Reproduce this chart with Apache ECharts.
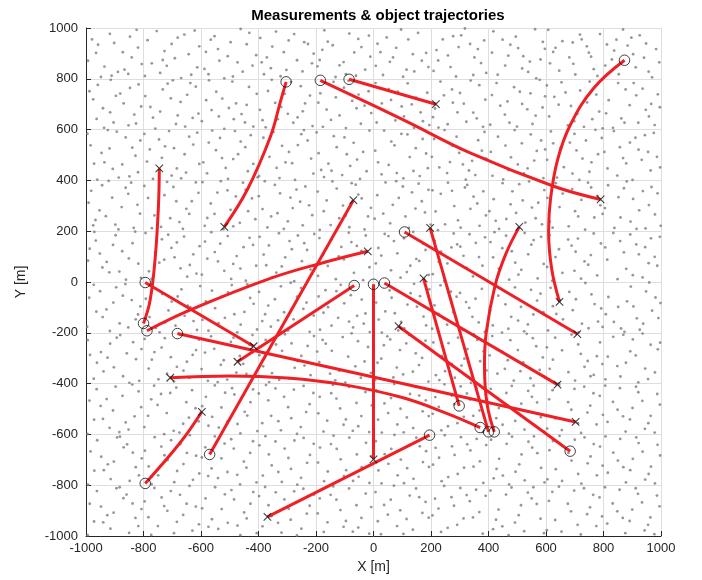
<!DOCTYPE html>
<html><head><meta charset="utf-8">
<script src="https://cdn.jsdelivr.net/npm/echarts@6/dist/echarts.min.js"></script>
<style>html,body{margin:0;padding:0;background:#fff}#c{width:702px;height:580px}</style>
</head><body><div id="c"></div>
<script>
// ---- data ----
const chartTitle = 'Measurements & object trajectories';
const xAxisName = 'X [m]';
const yAxisName = 'Y [m]';
const xTicks = [-1000,-800,-600,-400,-200,0,200,400,600,800,1000];
const yTicks = [-1000,-800,-600,-400,-200,0,200,400,600,800,1000];

// object trajectories: first point = start (circle), last point = end (cross)
const track01 = [[-304,788],[-324,709],[-359,571],[-440,361],[-519,217]];
const track02 = [[-185,794],[104,638],[336,508],[629,376],[790,325]];
const track03 = [[-85,798],[217,700]];
const track04 = [[873,873],[765,762],[684,617],[640,480],[616,330],[609,200],[620,50],[647,-78]];
const track05 = [[-800,-163],[-777,-72],[-759,99],[-748,300],[-745,447]];
const track06 = [[-794,-2],[-417,-253]];
const track07 = [[-788,-192],[-637,-110],[-359,14],[-185,73],[-20,121]];
const track08 = [[-67,-14],[-473,-314]];
const track09 = [[-682,-203],[703,-551]];
const track10 = [[371,-573],[250,-515],[100,-455],[-100,-405],[-300,-378],[-500,-370],[-707,-377]];
const track11 = [[-570,-679],[-70,322]];
const track12 = [[-794,-793],[-672,-632],[-597,-511]];
const track13 = [[195,-603],[-369,-925]];
const track14 = [[0,-9],[0,-698]];
const track15 = [[38,-4],[640,-404]];
const track16 = [[108,197],[709,-205]];
const track17 = [[400,-590],[197,213]];
const track18 = [[298,-488],[174,14]];
const track19 = [[420,-590],[395,-480],[386,-330],[392,-200],[423,-13],[460,110],[507,217]];
const track20 = [[684,-666],[87,-174]];
const tracks = [track01,track02,track03,track04,track05,track06,track07,track08,track09,track10,
                track11,track12,track13,track14,track15,track16,track17,track18,track19,track20];

const clutter = [
-993,871,-958,934,-911,812,-847,966,-872,905,-936,848,-824,993,-889,827,-965,902,-806,858,-917,977,-853,819,-979,955,-841,884,-902,941,-866,836,-948,807,-819,923,
-786,952,-742,823,-691,881,-658,974,-613,845,-727,909,-771,861,-634,816,-702,937,-669,803,-754,988,-606,928,-719,851,-643,897,-795,811,-681,962,-733,874,-622,990,
-588,839,-541,917,-473,865,-432,981,-519,802,-566,954,-408,893,-497,944,-455,828,-583,906,-421,852,-536,871,-462,996,-507,889,-574,818,-441,936,-489,809,-553,968,
-394,961,-357,842,-312,905,-266,873,-228,937,-381,818,-339,986,-247,829,-295,951,-371,884,-214,861,-323,810,-276,976,-352,927,-208,899,-389,865,-241,944,-303,835,
-187,874,-142,932,-96,818,-53,957,-11,887,-171,991,-118,853,-67,904,-29,836,-159,946,-84,978,-132,807,-42,925,-195,849,-104,866,-16,970,-61,812,-178,914,
14,938,57,867,96,994,142,829,183,902,33,815,121,955,168,871,79,922,8,851,155,981,103,808,46,963,137,897,191,846,68,884,24,905,115,836,
219,913,268,846,305,971,351,884,392,823,241,955,287,809,336,937,374,862,225,872,318,998,259,892,363,917,209,831,296,925,385,951,347,815,277,968,
417,987,458,852,503,921,544,868,589,945,432,816,476,934,521,889,566,802,412,903,495,966,538,827,581,876,449,954,517,841,562,995,469,891,596,918,
614,861,657,948,702,817,749,903,788,976,633,922,681,884,724,955,766,838,608,993,695,859,742,928,779,811,646,832,718,974,757,887,625,906,693,943,
812,935,853,818,897,962,941,883,983,917,829,876,868,994,912,845,957,828,806,852,884,931,926,971,969,806,845,954,903,897,948,939,994,865,837,911,
-988,751,-941,684,-896,733,-852,617,-817,778,-963,642,-914,796,-869,703,-832,659,-975,719,-904,628,-847,764,-808,691,-937,607,-881,742,-959,776,-826,624,-916,668,
-776,689,-733,758,-687,622,-648,737,-609,663,-759,604,-716,781,-671,709,-629,646,-794,732,-742,671,-698,794,-655,612,-618,769,-767,647,-705,723,-681,656,-637,783,
-582,716,-538,652,-491,789,-447,628,-406,741,-563,677,-519,603,-478,703,-433,768,-597,633,-547,749,-503,685,-459,661,-418,612,-572,794,-526,722,-486,641,-441,697,
-386,637,-342,705,-298,662,-253,771,-212,614,-367,752,-321,689,-279,627,-238,703,-395,678,-354,796,-309,741,-264,648,-221,734,-375,609,-333,641,-287,787,-246,672,
-192,706,-148,638,-103,765,-59,684,-17,751,-176,611,-131,727,-87,792,-44,623,-163,679,-118,656,-74,713,-31,694,-185,743,-139,788,-96,606,-52,738,-8,665,
11,628,53,759,98,691,141,607,187,745,29,703,76,636,119,782,164,668,7,783,61,717,106,652,148,726,194,618,38,674,85,749,133,699,172,633,
214,683,258,621,301,744,347,667,389,718,233,789,276,706,323,631,368,775,207,649,292,668,338,793,381,611,245,735,314,702,359,644,226,608,273,758,
412,736,457,659,499,612,546,743,588,687,428,783,473,627,517,701,564,655,406,619,489,767,535,680,578,796,441,694,509,749,553,622,597,731,466,711,
611,652,654,786,698,633,743,707,785,671,629,729,676,617,719,754,761,641,603,774,687,693,732,611,775,738,644,698,709,662,752,789,797,605,668,746,
818,716,862,644,905,783,947,678,989,739,833,607,877,758,921,627,966,701,809,664,891,696,936,761,978,618,851,783,914,735,958,652,996,688,873,627,
-984,538,-936,471,-893,592,-849,416,-811,557,-961,403,-918,526,-874,463,-828,497,-995,584,-907,445,-862,569,-819,432,-946,508,-886,411,-972,466,-839,529,-924,598,
-788,474,-746,561,-702,419,-657,503,-613,588,-767,406,-725,534,-684,447,-641,572,-797,583,-736,489,-694,527,-652,431,-606,465,-778,522,-711,594,-669,408,-627,541,
-579,428,-534,567,-488,484,-446,531,-403,412,-561,596,-514,449,-471,503,-427,578,-592,471,-548,519,-506,406,-462,553,-418,465,-573,549,-527,488,-482,594,-437,436,
-383,568,-337,449,-294,512,-251,582,-209,427,-362,493,-318,536,-273,402,-229,557,-398,417,-348,591,-306,471,-263,539,-217,486,-373,531,-327,409,-283,468,-242,598,
-191,507,-146,438,-101,569,-57,482,-14,596,-172,413,-128,531,-81,457,-36,512,-198,589,-157,466,-109,421,-69,548,-24,436,-182,441,-138,574,-93,503,-47,406,
16,471,62,553,104,408,147,527,189,448,37,596,81,429,126,492,171,563,6,517,53,461,97,583,139,437,183,506,28,424,73,538,118,581,161,417,
211,563,256,429,298,508,343,477,386,591,229,451,274,537,321,403,364,558,203,493,289,572,332,439,377,517,247,598,311,463,354,421,392,486,266,472,
414,418,459,537,502,463,547,581,591,409,433,572,478,491,523,428,568,516,408,512,491,598,536,447,583,557,451,404,516,546,559,478,597,522,469,441,
617,593,662,452,706,518,751,434,794,567,638,411,683,549,727,486,772,599,604,481,692,427,739,557,781,503,651,529,716,402,758,471,625,546,699,583,
814,447,857,531,901,402,944,578,986,493,836,594,879,467,922,521,964,439,803,512,892,549,933,481,975,587,848,419,911,568,955,512,997,451,868,488,
-991,312,-944,381,-898,226,-853,347,-812,269,-967,244,-921,398,-876,295,-834,213,-982,359,-909,332,-862,371,-821,304,-953,282,-887,207,-975,223,-843,391,-931,259,
-784,331,-739,217,-696,374,-651,288,-609,351,-762,262,-718,394,-675,236,-632,318,-797,378,-748,297,-707,251,-663,209,-618,392,-771,212,-727,342,-686,318,-641,268,
-587,221,-543,352,-497,284,-454,391,-411,247,-566,309,-522,208,-479,337,-436,279,-595,393,-553,268,-508,361,-465,233,-423,329,-578,252,-531,397,-488,219,-445,363,
-386,287,-343,382,-298,239,-255,316,-213,263,-369,215,-325,349,-281,291,-237,376,-399,338,-356,258,-312,209,-268,364,-224,302,-378,397,-334,271,-289,332,-246,223,
-194,356,-149,224,-106,301,-62,383,-19,258,-173,279,-128,368,-84,216,-41,329,-187,205,-143,396,-97,261,-53,344,-9,292,-163,321,-119,251,-76,389,-31,207,
13,342,58,231,102,376,146,289,191,363,34,269,79,397,123,213,168,318,4,249,67,304,111,258,157,387,199,226,42,392,88,331,134,353,179,274,
216,278,259,391,303,214,348,336,391,262,234,347,281,299,326,382,369,221,205,361,294,243,337,288,382,357,249,227,318,372,361,309,224,204,273,359,
418,326,462,248,507,385,551,293,594,362,437,209,483,357,528,234,573,312,403,279,496,272,541,396,586,227,449,389,519,321,564,251,425,241,477,306,
613,237,658,348,701,279,746,391,789,302,634,389,679,219,723,323,768,254,605,331,691,366,736,206,779,339,647,295,712,258,757,372,623,214,797,268,
816,381,859,254,903,327,946,211,988,349,838,213,881,396,924,282,967,374,805,291,894,238,937,358,979,266,852,334,915,209,958,303,999,221,871,369,
-987,131,-943,57,-897,184,-851,93,-809,16,-966,163,-919,38,-874,121,-829,198,-993,84,-906,146,-861,9,-818,72,-952,112,-884,41,-971,197,-838,153,-928,79,
-781,42,-736,168,-692,97,-648,21,-605,141,-759,117,-714,186,-671,54,-627,109,-793,193,-745,76,-703,134,-659,179,-616,33,-772,12,-728,88,-684,156,-639,67,
-586,159,-541,81,-495,12,-452,137,-408,64,-564,196,-519,44,-476,102,-431,174,-597,29,-552,118,-507,181,-463,53,-419,146,-578,92,-533,151,-488,71,-444,5,
-382,108,-338,37,-292,161,-249,82,-206,189,-364,144,-319,61,-276,3,-231,126,-396,178,-351,19,-307,97,-263,183,-219,49,-373,66,-329,192,-284,129,-241,153,
-193,24,-147,167,-103,89,-58,142,-14,58,-175,109,-131,11,-86,194,-42,122,-188,173,-159,63,-112,138,-68,36,-27,183,-166,79,-121,101,-77,157,-36,7,
17,134,61,46,106,172,149,91,192,28,39,189,83,113,128,64,173,151,8,73,94,17,138,197,181,126,27,104,71,161,116,39,159,83,52,181,
213,162,257,73,302,139,346,22,388,176,235,119,279,191,324,56,367,98,206,31,291,148,334,188,379,64,246,4,313,103,356,154,227,79,271,136,
416,97,461,182,504,29,549,147,592,71,436,53,481,121,526,193,571,14,407,157,493,76,538,109,583,178,448,133,514,48,557,165,421,196,472,9,
612,184,657,36,703,119,747,68,791,152,633,98,677,167,722,13,766,191,604,59,689,143,734,81,778,26,645,129,711,171,756,106,622,5,699,44,
813,88,858,161,902,27,945,137,987,64,834,193,879,52,923,109,965,172,806,136,893,187,936,18,978,99,849,11,914,148,957,74,996,178,871,117,
-989,-62,-942,-138,-895,-21,-853,-179,-811,-96,-964,-117,-917,-193,-872,-54,-827,-147,-996,-176,-905,-81,-863,-8,-819,-128,-951,-36,-883,-163,-973,-11,-841,-71,-929,-108,
-779,-138,-735,-47,-689,-172,-646,-93,-603,-16,-757,-181,-713,-112,-668,-29,-626,-154,-792,-66,-744,-198,-702,-77,-657,-133,-614,-189,-768,-4,-724,-159,-681,-57,-637,-99,
-583,-76,-539,-162,-493,-12,-449,-118,-405,-187,-562,-34,-517,-141,-474,-198,-429,-63,-595,-149,-551,-103,-506,-41,-462,-168,-417,-86,-574,-192,-528,-58,-484,-127,-439,-9,
-387,-154,-343,-68,-297,-191,-252,-24,-208,-132,-366,-93,-322,-17,-278,-147,-233,-81,-398,-39,-357,-176,-311,-119,-266,-58,-222,-196,-377,-127,-332,-151,-288,-3,-244,-106,
-191,-57,-146,-172,-102,-84,-57,-133,-13,-197,-174,-121,-129,-36,-85,-156,-41,-69,-186,-188,-158,-99,-114,-11,-71,-179,-28,-124,-167,-32,-123,-141,-79,-52,-34,-164,
18,-148,63,-62,107,-183,151,-97,194,-29,41,-116,86,-191,129,-44,174,-136,9,-81,96,-157,141,-7,183,-171,29,-199,74,-123,118,-89,162,-56,56,-33,
212,-92,256,-168,301,-43,344,-137,387,-196,233,-13,278,-119,322,-79,366,-159,204,-184,289,-58,333,-102,377,-27,244,-143,311,-189,355,-66,226,-126,269,-38,
415,-171,459,-88,503,-152,548,-31,591,-119,434,-54,479,-137,524,-194,569,-73,406,-112,492,-21,537,-167,581,-46,447,-199,513,-98,556,-128,426,-12,469,-184,
616,-23,659,-147,704,-68,748,-182,792,-104,636,-126,681,-39,725,-164,769,-87,607,-191,693,-111,737,-4,781,-156,648,-71,713,-198,758,-49,624,-95,797,-177,
817,-59,861,-183,904,-96,948,-37,991,-142,836,-157,882,-76,926,-188,969,-113,808,-127,895,-18,938,-164,981,-61,851,-98,916,-143,959,-2,998,-83,873,-196,
-986,-287,-939,-352,-893,-219,-849,-397,-807,-264,-962,-318,-916,-243,-871,-371,-826,-304,-994,-229,-903,-336,-858,-281,-815,-389,-948,-276,-881,-209,-973,-381,-836,-237,-925,-298,
-782,-341,-737,-258,-694,-392,-649,-314,-607,-227,-762,-276,-718,-361,-673,-208,-629,-287,-796,-224,-748,-383,-705,-296,-661,-349,-617,-268,-771,-306,-726,-221,-684,-334,-641,-377,
-586,-278,-542,-394,-496,-236,-453,-322,-409,-371,-565,-214,-521,-308,-477,-357,-432,-246,-598,-343,-554,-263,-509,-384,-465,-291,-421,-209,-576,-389,-531,-326,-487,-219,-442,-362,
-384,-332,-339,-246,-294,-379,-251,-291,-207,-213,-363,-394,-318,-271,-274,-338,-229,-252,-397,-288,-353,-359,-308,-206,-264,-311,-219,-367,-375,-228,-328,-385,-285,-242,-240,-329,
-196,-274,-151,-361,-107,-217,-63,-332,-19,-256,-177,-228,-133,-387,-88,-294,-44,-377,-189,-316,-166,-243,-119,-349,-76,-202,-31,-313,-145,-271,-98,-396,-54,-233,-9,-358,
14,-318,58,-226,103,-364,147,-281,191,-392,36,-249,81,-337,124,-208,169,-299,6,-386,92,-268,137,-353,181,-231,27,-302,69,-376,114,-242,158,-327,48,-214,
217,-367,261,-241,306,-329,349,-206,393,-348,238,-291,283,-377,327,-264,371,-312,208,-238,294,-219,339,-397,383,-273,249,-351,316,-302,361,-228,229,-386,272,-323,
413,-213,457,-342,502,-268,546,-379,589,-297,431,-361,476,-229,521,-317,566,-253,404,-289,488,-388,533,-204,578,-346,446,-274,511,-351,554,-221,597,-374,467,-308,
613,-342,656,-269,701,-388,745,-311,788,-238,632,-219,678,-355,721,-283,766,-366,603,-257,689,-207,734,-334,777,-292,645,-399,712,-246,755,-371,624,-306,796,-323,
815,-294,859,-372,902,-226,945,-341,989,-265,834,-216,878,-318,921,-395,964,-247,807,-383,893,-273,936,-203,979,-356,848,-331,912,-289,955,-382,997,-239,869,-208,
-988,-467,-941,-539,-897,-412,-852,-581,-808,-493,-963,-422,-918,-574,-873,-448,-831,-529,-995,-598,-906,-506,-862,-553,-817,-431,-949,-488,-884,-591,-972,-542,-839,-404,-928,-461,
-784,-527,-739,-441,-695,-586,-651,-473,-608,-549,-763,-408,-719,-516,-675,-593,-631,-426,-797,-571,-751,-484,-707,-437,-662,-558,-619,-497,-773,-462,-728,-599,-686,-416,-642,-534,
-583,-452,-538,-573,-492,-418,-448,-511,-404,-587,-561,-531,-516,-436,-473,-559,-428,-473,-596,-489,-552,-407,-507,-548,-463,-596,-419,-423,-574,-566,-529,-494,-484,-443,-439,-526,
-387,-556,-341,-419,-297,-493,-253,-571,-209,-437,-366,-466,-322,-584,-277,-424,-234,-512,-399,-439,-356,-527,-311,-452,-266,-598,-222,-481,-374,-406,-331,-548,-286,-536,-243,-409,
-192,-517,-147,-438,-104,-562,-59,-476,-15,-591,-174,-589,-129,-459,-85,-413,-42,-528,-187,-452,-161,-546,-116,-498,-72,-586,-28,-433,-141,-405,-96,-541,-53,-568,-6,-486,
16,-542,61,-457,105,-592,148,-413,192,-528,38,-478,83,-561,127,-441,171,-509,9,-427,94,-499,138,-575,182,-466,29,-593,72,-402,116,-533,159,-447,51,-516,
215,-453,259,-568,303,-411,347,-527,391,-442,236,-584,281,-481,325,-439,369,-506,206,-519,292,-556,336,-463,381,-591,247,-403,314,-531,358,-418,227,-492,272,-447,
417,-573,462,-437,506,-518,551,-452,594,-589,436,-496,481,-409,525,-581,569,-474,408,-421,493,-547,538,-429,582,-532,449,-562,514,-479,557,-408,427,-536,471,-597,
611,-462,655,-583,699,-421,744,-514,787,-448,633,-537,677,-473,722,-594,765,-438,604,-577,688,-503,733,-412,776,-561,646,-406,711,-556,754,-487,623,-426,798,-523,
814,-551,857,-418,901,-496,944,-578,987,-441,833,-472,877,-589,921,-434,964,-527,806,-408,892,-541,935,-468,978,-593,849,-503,913,-412,956,-556,996,-483,868,-529,
-984,-667,-938,-741,-892,-612,-848,-783,-806,-694,-961,-623,-914,-776,-869,-651,-827,-729,-993,-798,-903,-707,-857,-639,-816,-761,-947,-688,-882,-609,-971,-743,-837,-672,-924,-718,
-782,-726,-738,-648,-693,-788,-649,-673,-606,-754,-761,-611,-716,-701,-672,-638,-628,-779,-795,-664,-749,-761,-704,-623,-661,-717,-617,-684,-772,-796,-727,-682,-683,-744,-639,-603,
-585,-651,-541,-772,-495,-619,-451,-707,-407,-789,-563,-734,-518,-636,-474,-759,-429,-673,-597,-691,-552,-608,-508,-748,-464,-797,-419,-627,-575,-764,-529,-694,-486,-656,-442,-731,
-385,-762,-341,-628,-296,-693,-252,-771,-208,-637,-364,-679,-319,-787,-275,-624,-231,-712,-397,-643,-354,-722,-309,-656,-265,-798,-221,-681,-376,-607,-331,-748,-287,-736,-243,-614,
-193,-711,-148,-638,-103,-764,-58,-679,-14,-791,-172,-784,-128,-657,-84,-613,-41,-729,-186,-652,-159,-746,-114,-698,-71,-783,-26,-633,-139,-605,-95,-741,-52,-767,-7,-686,
17,-742,62,-657,106,-792,149,-613,193,-728,39,-678,84,-761,128,-641,172,-709,8,-627,95,-699,139,-775,183,-666,28,-793,73,-602,117,-733,161,-647,52,-716,
216,-653,260,-768,304,-611,348,-727,392,-642,237,-784,282,-681,326,-639,370,-706,207,-719,293,-756,337,-663,382,-791,248,-603,315,-731,359,-618,228,-692,273,-647,
418,-773,463,-637,507,-718,552,-652,595,-789,437,-696,482,-609,526,-781,570,-674,409,-621,494,-747,539,-629,583,-732,450,-762,515,-679,558,-608,428,-736,472,-797,
612,-662,656,-783,700,-621,745,-714,788,-648,634,-737,678,-673,723,-794,766,-638,605,-777,689,-703,734,-612,777,-761,647,-606,712,-756,755,-687,624,-626,797,-723,
815,-751,858,-618,902,-696,945,-778,988,-641,834,-672,878,-789,922,-634,965,-727,807,-608,893,-741,936,-668,979,-793,850,-703,914,-612,957,-756,997,-683,869,-729,
-987,-873,-940,-946,-894,-812,-850,-988,-807,-894,-962,-823,-915,-971,-870,-851,-828,-929,-994,-997,-904,-908,-859,-837,-818,-961,-948,-884,-883,-808,-972,-943,-838,-872,-926,-918,
-783,-926,-737,-848,-694,-989,-650,-873,-607,-954,-762,-811,-717,-901,-673,-838,-630,-979,-796,-864,-750,-961,-705,-823,-662,-917,-618,-884,-773,-996,-728,-882,-684,-944,-640,-803,
-584,-852,-540,-972,-494,-819,-450,-907,-406,-989,-562,-934,-517,-836,-473,-959,-428,-873,-596,-891,-551,-808,-507,-948,-463,-997,-418,-827,-574,-964,-528,-894,-485,-856,-441,-931,
-386,-962,-340,-828,-295,-893,-251,-971,-207,-837,-365,-879,-320,-987,-276,-824,-232,-912,-398,-843,-355,-922,-310,-856,-266,-998,-222,-881,-377,-807,-332,-948,-288,-936,-244,-814,
-194,-911,-149,-838,-104,-964,-59,-879,-15,-991,-173,-984,-129,-857,-85,-813,-42,-929,-187,-852,-160,-946,-115,-898,-72,-983,-27,-833,-140,-805,-96,-941,-53,-967,-8,-886,
15,-942,60,-857,104,-992,148,-813,192,-928,37,-878,82,-961,126,-841,170,-909,7,-827,93,-899,137,-975,181,-866,26,-993,71,-802,115,-933,159,-847,50,-916,
214,-853,258,-968,302,-811,346,-927,390,-842,235,-984,280,-881,324,-839,368,-906,205,-919,291,-956,335,-863,380,-991,246,-803,313,-931,357,-818,226,-892,271,-847,
416,-973,461,-837,505,-918,550,-852,593,-989,435,-896,480,-809,524,-981,568,-874,407,-821,492,-947,537,-829,581,-932,448,-962,513,-879,556,-808,426,-936,470,-997,
610,-862,654,-983,698,-821,743,-914,786,-848,632,-937,676,-873,721,-994,764,-838,603,-977,687,-903,732,-812,775,-961,645,-806,710,-956,753,-887,622,-826,795,-923,
813,-951,856,-818,900,-896,943,-978,986,-841,832,-872,876,-989,920,-834,963,-927,805,-808,891,-941,934,-868,977,-993,848,-903,912,-812,955,-956,995,-883,867,-929
];

// ---- build ----
const FONT = '"Liberation Sans", Arial, Helvetica, sans-serif';
const INK = '#262626';
const RED = '#ee1f25';

const clutterPts = [];
for (let i = 0; i + 1 < clutter.length; i += 2) clutterPts.push([clutter[i], clutter[i + 1]]);

function axisCfg(ticks, name) {
  return {
    type: 'value', min: ticks[0], max: ticks[ticks.length - 1], interval: ticks[1] - ticks[0],
    name: name, nameLocation: 'middle',
    nameTextStyle: { color: INK, fontSize: 14, fontFamily: FONT },
    axisLine: { show: true, onZero: false, lineStyle: { color: INK, width: 1 } },
    axisTick: { show: true, inside: true, length: 5, lineStyle: { color: INK, width: 1 } },
    axisLabel: { color: INK, fontSize: 13, fontFamily: FONT, formatter: v => String(v) },
    splitLine: { show: true, lineStyle: { color: '#dedede', width: 1 } }
  };
}

const xAxis = axisCfg(xTicks, xAxisName);
xAxis.nameGap = 20; xAxis.axisLabel.margin = 6;
const yAxis = axisCfg(yTicks, yAxisName);
yAxis.nameGap = 58; yAxis.axisLabel.margin = 8;

const series = [{
  type: 'scatter', data: clutterPts, symbol: 'circle', symbolSize: 2.8, silent: true, z: 1,
  itemStyle: { color: '#7d7d7d' }
}];
tracks.forEach(t => series.push({
  type: 'line', data: t, smooth: t.length > 2 ? 0.4 : false, showSymbol: false, silent: true, z: 3,
  lineStyle: { color: RED, width: 3 }
}));
series.push({
  type: 'scatter', data: tracks.map(t => t[0]), symbol: 'circle', symbolSize: 10.5, silent: true, z: 5,
  itemStyle: { color: 'rgba(0,0,0,0)', borderColor: '#111', borderWidth: 1 }
});
series.push({
  type: 'scatter', data: tracks.map(t => t[t.length - 1]), symbol: 'path://M0,0L10,10M10,0L0,10', symbolSize: 7.5, silent: true, z: 5,
  itemStyle: { color: 'rgba(0,0,0,0)', borderColor: '#111', borderWidth: 1.1 }
});

const chart = echarts.init(document.getElementById('c'), null, { renderer: 'canvas' });
chart.setOption({
  animation: false,
  backgroundColor: '#fff',
  title: { text: chartTitle, left: 373, textAlign: 'center', top: 3,
    textStyle: { fontSize: 15, fontWeight: 'bold', color: '#000', fontFamily: FONT } },
  grid: { left: 86, right: 41, top: 28, bottom: 44, containLabel: false },
  xAxis: xAxis,
  yAxis: yAxis,
  series: series
});
</script></body></html>
